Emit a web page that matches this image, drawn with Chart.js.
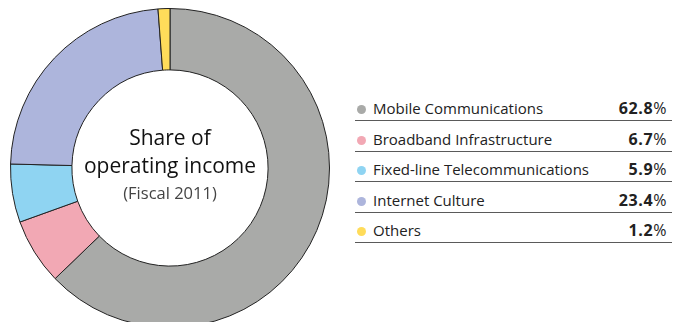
<!DOCTYPE html>
<html><head><meta charset="utf-8">
<script src="https://cdn.jsdelivr.net/npm/chart.js@4/dist/chart.umd.min.js"></script>
<style>
html,body{margin:0;padding:0;width:681px;height:322px;overflow:hidden;background:#fff;font-family:"Open Sans",sans-serif;}
#wrap{position:absolute;left:10px;top:8px;width:320px;height:320px;}
.ct{position:absolute;left:60px;width:220px;text-align:center;color:#111;white-space:nowrap;}
.row{position:absolute;left:355px;width:317px;height:30px;border-bottom:1.5px solid #5a5a5a;color:#222;}
.row .lab{position:absolute;left:0;top:3px;font-size:15px;line-height:30px;}
.row .val{position:absolute;right:5px;top:3px;font-size:16px;line-height:30px;letter-spacing:0.6px;}
.row .val b{font-weight:700;}
.dot{display:inline-block;width:9px;height:9px;border-radius:50%;margin:0 7px 0 2px;vertical-align:0px;}
</style></head><body>
<div id="wrap"><canvas id="c"></canvas></div>
<div class="ct" style="top:122.6px;font-size:21px;line-height:28.6px;">Share of</div>
<div class="ct" style="top:150.6px;font-size:21px;line-height:28.6px;">operating income</div>
<div class="ct" style="top:182.4px;font-size:16.5px;line-height:22.5px;color:#444;">(Fiscal 2011)</div>
<div id="legend"></div>
<script>
const categories = ["Mobile Communications","Broadband Infrastructure","Fixed-line Telecommunications","Internet Culture","Others"];
const shares = [62.8, 6.7, 5.9, 23.4, 1.2];
const valueLabels = ["62.8","6.7","5.9","23.4","1.2"];
const colors = ["#a9aaa8","#f2a8b4","#8fd4f2","#adb5dc","#ffdc5a"];

const lg = document.getElementById('legend');
categories.forEach((c,i)=>{
  const d = document.createElement('div');
  d.className = 'row';
  d.style.top = (90 + 30.5*i) + 'px';
  d.innerHTML = '<span class="lab"><span class="dot" style="background:'+colors[i]+'"></span>'+c+'</span><span class="val"><b>'+valueLabels[i]+'</b>%</span>';
  lg.appendChild(d);
});

new Chart(document.getElementById('c'), {
  type:'doughnut',
  data:{labels:categories, datasets:[{data:shares, backgroundColor:colors, borderColor:'#222', borderWidth:1}]},
  options:{responsive:true, maintainAspectRatio:false, animation:false, cutout:'61.5%',
    layout:{padding:0},
    plugins:{legend:{display:false}, tooltip:{enabled:false}}}
});
</script>
</body></html>
